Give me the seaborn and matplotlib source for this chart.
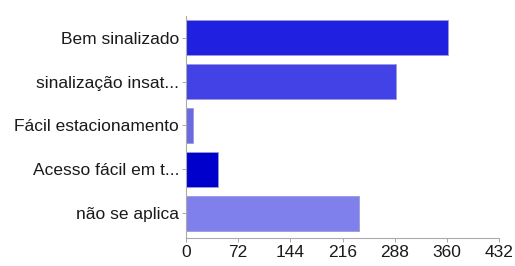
import matplotlib
matplotlib.use("Agg")
import matplotlib.pyplot as plt
import seaborn as sns
import pandas as pd

categories = ["Bem sinalizado", "sinalização insat...", "Fácil estacionamento",
              "Acesso fácil em t...", "não se aplica"]
counts = [362, 290, 10, 44, 239]
bar_colors = ["#2020e0", "#4242e6", "#6a6ae2", "#0000cc", "#8080ec"]
x_ticks = [0, 72, 144, 216, 288, 360, 432]

df = pd.DataFrame({"categoria": categories, "respostas": counts})

sns.set_style("white")
plt.rcParams["font.family"] = ["Liberation Sans", "DejaVu Sans"]

fig = plt.figure(figsize=(5.15, 2.66), dpi=100)
ax = fig.add_axes([0.3612, 0.1053, 0.9690 - 0.3612, 0.938 - 0.1053])

sns.barplot(data=df, x="respostas", y="categoria", hue="categoria",
            palette=bar_colors, saturation=1, orient="h", width=0.8, legend=False,
            edgecolor="#9a9ad8", linewidth=0.6, ax=ax)

ax.set_xlim(0, 432)
ax.set_ylim(4.56, -0.48)
ax.set_xticks(x_ticks)
ax.set_xlabel("")
ax.set_ylabel("")
ax.tick_params(axis="both", labelsize=12.5, colors="#999999", length=3, width=0.6,
               labelcolor="#1a1a1a", bottom=True, left=True, pad=2)
for side in ["top", "right"]:
    ax.spines[side].set_visible(False)
for side in ["left", "bottom"]:
    ax.spines[side].set_color("#aaaaaa")
    ax.spines[side].set_linewidth(0.8)

fig.savefig("out.png", dpi=100)
